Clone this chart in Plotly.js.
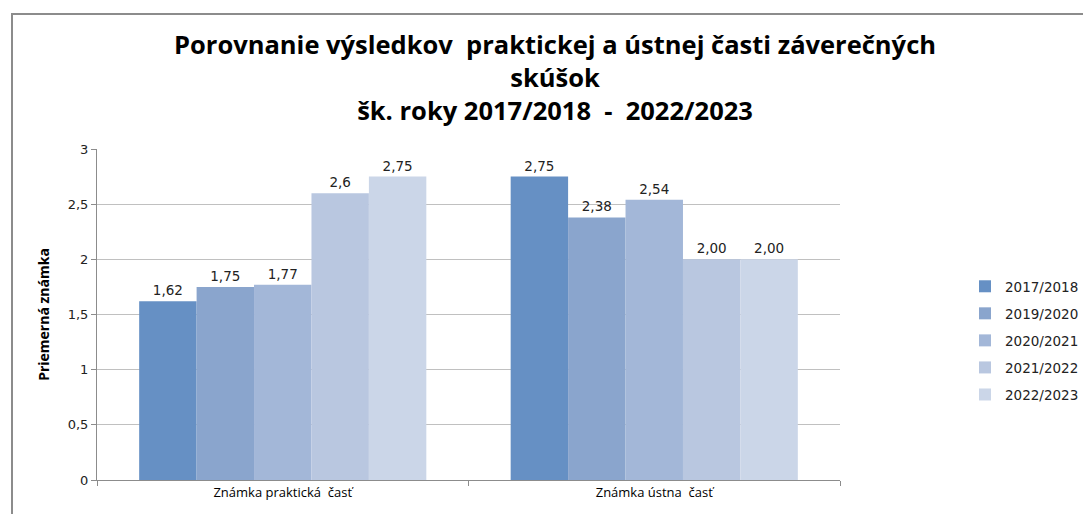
<!DOCTYPE html>
<html><head><meta charset="utf-8">
<script src="https://cdn.plot.ly/plotly-3.0.1.min.js"></script>
<style>
html,body{margin:0;padding:0;background:#fff;}
#wrap{position:relative;width:1083px;height:514px;overflow:hidden;}
#chart{width:1083px;height:514px;}
#frame{position:absolute;left:11px;top:13px;width:1200px;height:600px;border-left:2px solid #8c8c8c;border-top:2px solid #8c8c8c;pointer-events:none;}
</style></head>
<body><div id="wrap"><div id="chart"></div><div id="frame"></div></div>
<script>
const categories = ["Známka praktická  časť", "Známka ústna  časť"];
const seriesNames = ["2017/2018", "2019/2020", "2020/2021", "2021/2022", "2022/2023"];
const v2017 = [1.62, 2.75];
const v2019 = [1.75, 2.38];
const v2020 = [1.77, 2.54];
const v2021 = [2.6, 2.00];
const v2022 = [2.75, 2.00];
const labels2017 = ["1,62", "2,75"];
const labels2019 = ["1,75", "2,38"];
const labels2020 = ["1,77", "2,54"];
const labels2021 = ["2,6", "2,00"];
const labels2022 = ["2,75", "2,00"];
const yTickVals = [0, 0.5, 1, 1.5, 2, 2.5, 3];
const yTickText = ["0", "0,5", "1", "1,5", "2", "2,5", "3"];

const colors = ["#6690c4", "#8aa5cd", "#a3b7d8", "#b9c7e0", "#cbd6e8"];
const values = [v2017, v2019, v2020, v2021, v2022];
const labels = [labels2017, labels2019, labels2020, labels2021, labels2022];

const traces = seriesNames.map((n, i) => ({
  type: "bar", name: n, x: categories, y: values[i],
  text: labels[i], textposition: "outside", cliponaxis: false,
  textfont: {family: "DejaVu Sans", size: 13.5, color: "#222"},
  marker: {color: colors[i], line: {width: 0}},
  legendgroup: "g" + i, hoverinfo: "none"
}));

const layout = {
  width: 1083, height: 514,
  margin: {l: 97, r: 243, t: 149, b: 34},
  paper_bgcolor: "#fff", plot_bgcolor: "#fff",
  barmode: "group", bargap: 0.227, bargroupgap: 0,
  showlegend: true,
  title: {
    text: "Porovnanie výsledkov  praktickej a ústnej časti záverečných<br>skúšok<br>šk. roky 2017/2018  -  2022/2023",
    font: {family: "Liberation Sans Narrow, Open Sans, sans-serif", size: 25.5, color: "#000", weight: "bold"},
    x: 555/1083, xanchor: "center", xref: "container",
    y: 1 - 54/514, yanchor: "top", yref: "container"
  },
  xaxis: {
    type: "category", showgrid: false, zeroline: false,
    showline: true, linecolor: "#8c8c8c", linewidth: 1,
    ticks: "outside", tickson: "boundaries", ticklen: 5, tickcolor: "#8c8c8c",
    tickfont: {family: "Liberation Sans Narrow, Open Sans, sans-serif", size: 13, color: "#000"},
    fixedrange: true
  },
  yaxis: {
    range: [0, 3], tickvals: yTickVals, ticktext: yTickText,
    showgrid: true, gridcolor: "#c0c0c0", gridwidth: 1, zeroline: false,
    showline: true, linecolor: "#8c8c8c", linewidth: 1,
    ticks: "outside", ticklen: 5, tickcolor: "#8c8c8c",
    tickfont: {family: "DejaVu Sans", size: 13, color: "#222"},
    title: {text: "Priemerná známka", standoff: 14,
      font: {family: "Liberation Sans Narrow, Open Sans, sans-serif", size: 14, color: "#000", weight: "bold"}},
    fixedrange: true
  },
  legend: {
    xref: "container", yref: "container",
    x: 965/1083, xanchor: "left", y: 1 - 271/514, yanchor: "top",
    font: {family: "DejaVu Sans", size: 13.5, color: "#222"},
    traceorder: "grouped", tracegroupgap: 6.5,
    itemwidth: 30, bgcolor: "rgba(0,0,0,0)"
  }
};
Plotly.newPlot("chart", traces, layout, {staticPlot: true});
</script></body></html>
